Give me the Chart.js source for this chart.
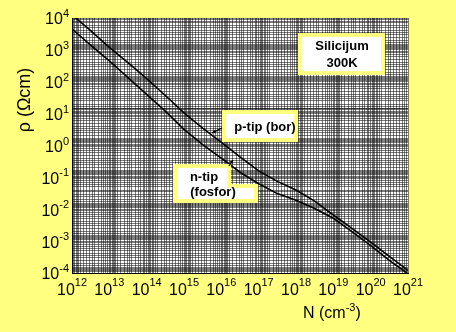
<!DOCTYPE html>
<html>
<head>
<meta charset="utf-8">
<script src="https://cdn.jsdelivr.net/npm/chart.js@4.4.1/dist/chart.umd.min.js"></script>
<style>
  html, body { margin: 0; padding: 0; background: #ffff80; }
  #wrap { width: 456px; height: 332px; position: relative; }
</style>
</head>
<body>
<div id="wrap"><canvas id="rhoChart"></canvas></div>
<script>
// doping concentration N (cm^-3), half-decade steps
const dopingN = [1e12, 3.16e12, 1e13, 3.16e13, 1e14, 3.16e14, 1e15, 3.16e15, 1e16, 3.16e16,
                 1e17, 3.16e17, 1e18, 3.16e18, 1e19, 3.16e19, 1e20, 3.16e20, 1e21];
// resistivity (Ohm cm)
const rhoP = [12600, 4000, 1200, 400, 126, 37, 10.5, 3.5, 1.26, 0.44,
              0.16, 0.075, 0.04, 0.018, 0.0066, 0.0025, 9.3e-4, 3.3e-4, 1.2e-4];
const rhoN = [4500, 1400, 450, 135, 40, 12, 3.2, 1.07, 0.4, 0.145,
              0.063, 0.031, 0.019, 0.0105, 0.0052, 0.002, 7.2e-4, 2.5e-4, 9.5e-5];
// tick label exponents
const xTickExp = [12, 13, 14, 15, 16, 17, 18, 19, 20, 21];
const yTickExp = [4, 3, 2, 1, 0, -1, -2, -3, -4];
// log paper lines inside one decade
const gridSteps = [1, 1.1, 1.2, 1.3, 1.4, 1.5, 1.7, 2, 2.5, 3, 3.5, 4, 5, 6, 7, 8, 9];

const FONT = "'Liberation Sans', Arial, sans-serif";

function gridTicks(lo, hi) {
  const t = [];
  for (let e = lo; e < hi; e++) {
    gridSteps.forEach(m => t.push({ value: m * Math.pow(10, e) }));
  }
  t.push({ value: Math.pow(10, hi) });
  return t;
}

function box(ctx, rects) {
  ctx.fillStyle = "#ffff80";
  rects.forEach(r => ctx.fillRect(r[0], r[1], r[2], r[3]));
  ctx.fillStyle = "#ffffff";
  rects.forEach(r => ctx.fillRect(r[0] + 4, r[1] + 4, r[2] - 8, r[3] - 8));
}

function arrow(ctx, x1, y1, x2, y2) {
  ctx.strokeStyle = "#000";
  ctx.lineWidth = 1.3;
  ctx.beginPath();
  ctx.moveTo(x1, y1);
  ctx.lineTo(x2, y2);
  ctx.stroke();
  const a = Math.atan2(y2 - y1, x2 - x1);
  ctx.beginPath();
  ctx.moveTo(x2, y2);
  ctx.lineTo(x2 - 4 * Math.cos(a - 0.5), y2 - 4 * Math.sin(a - 0.5));
  ctx.lineTo(x2 - 4 * Math.cos(a + 0.5), y2 - 4 * Math.sin(a + 0.5));
  ctx.closePath();
  ctx.fillStyle = "#000";
  ctx.fill();
}

// white paper behind the grid
const paperPlugin = {
  id: "paper",
  beforeDraw(chart) {
    const a = chart.chartArea;
    chart.ctx.save();
    chart.ctx.fillStyle = "#ffffff";
    chart.ctx.fillRect(a.left, a.top, a.right - a.left, a.bottom - a.top);
    chart.ctx.restore();
  }
};

// annotation boxes over the curves
const notePlugin = {
  id: "notes",
  afterDatasetsDraw(chart) {
    const ctx = chart.ctx;
    ctx.save();
    box(ctx, [[298, 33, 87, 42]]);
    box(ctx, [[222, 110, 76, 32]]);
    box(ctx, [[173, 164, 58, 30], [173, 184, 85, 19]]);

    ctx.fillStyle = "#000";
    ctx.textAlign = "center";
    ctx.textBaseline = "middle";
    ctx.font = "bold 13px " + FONT;
    ctx.fillText("Silicijum", 342, 46);
    ctx.fillText("300K", 342, 63);
    ctx.fillText("p-tip (bor)", 265, 127);
    ctx.fillText("n-tip", 204, 177);
    ctx.fillText("(fosfor)", 213, 192);

    arrow(ctx, 222, 128, 212, 133);
    arrow(ctx, 229, 166, 233, 160);
    ctx.restore();
  }
};

// tick labels with superscripts and axis titles
const labelPlugin = {
  id: "labels",
  afterDraw(chart) {
    const ctx = chart.ctx;
    const xs = chart.scales.x, ys = chart.scales.y;
    ctx.save();
    ctx.fillStyle = "#000";
    ctx.textBaseline = "middle";
    ctx.textAlign = "left";

    xTickExp.forEach(e => {
      const px = xs.getPixelForValue(Math.pow(10, e));
      ctx.font = "16px " + FONT;
      const w1 = ctx.measureText("10").width;
      ctx.font = "11px " + FONT;
      const w2 = ctx.measureText(String(e)).width;
      const x0 = px - (w1 + w2) / 2;
      ctx.font = "16px " + FONT;
      ctx.fillText("10", x0, 291);
      ctx.font = "11px " + FONT;
      ctx.fillText(String(e), x0 + w1, 283);
    });

    yTickExp.forEach(e => {
      const py = ys.getPixelForValue(Math.pow(10, e));
      ctx.font = "11px " + FONT;
      const w2 = ctx.measureText(String(e)).width;
      ctx.font = "16px " + FONT;
      const w1 = ctx.measureText("10").width;
      const x0 = 69 - w2 - w1;
      ctx.fillText("10", x0, py + 2);
      ctx.font = "11px " + FONT;
      ctx.fillText(String(e), x0 + w1, py - 4);
    });

    // x title
    ctx.font = "16px " + FONT;
    let x = 303;
    ctx.fillText("N (cm", x, 314);
    x += ctx.measureText("N (cm").width;
    ctx.font = "11px " + FONT;
    ctx.fillText("-3", x, 308);
    x += ctx.measureText("-3").width;
    ctx.font = "16px " + FONT;
    ctx.fillText(")", x, 314);

    // y title
    ctx.translate(25, 100);
    ctx.rotate(-Math.PI / 2);
    ctx.textAlign = "center";
    ctx.font = "18px " + FONT;
    ctx.fillText("\u03c1 (\u03a9cm)", 0, 0);
    ctx.restore();
  }
};

const ctx = document.getElementById("rhoChart").getContext("2d");

new Chart(ctx, {
  type: "line",
  data: {
    datasets: [
      {
        label: "p-tip (bor)",
        data: dopingN.map((n, i) => ({ x: n, y: rhoP[i] })),
        borderColor: "#000",
        borderWidth: 1.6,
        pointRadius: 0,
        fill: false
      },
      {
        label: "n-tip (fosfor)",
        data: dopingN.map((n, i) => ({ x: n, y: rhoN[i] })),
        borderColor: "#000",
        borderWidth: 1.6,
        pointRadius: 0,
        fill: false
      }
    ]
  },
  options: {
    responsive: true,
    maintainAspectRatio: false,
    animation: false,
    layout: { padding: { left: 72, top: 18, right: 48, bottom: 59 } },
    plugins: {
      legend: { display: false },
      tooltip: { enabled: false }
    },
    scales: {
      x: {
        type: "logarithmic",
        min: 1e12,
        max: 1e21,
        afterBuildTicks: axis => { axis.ticks = gridTicks(12, 21); },
        ticks: { display: false },
        grid: { color: "rgba(0,0,0,0.5)", lineWidth: 1, drawTicks: false },
        border: { display: true, color: "#000", width: 1 }
      },
      y: {
        type: "logarithmic",
        min: 1e-4,
        max: 1e4,
        afterBuildTicks: axis => { axis.ticks = gridTicks(-4, 4); },
        ticks: { display: false },
        grid: { color: "rgba(0,0,0,0.5)", lineWidth: 1, drawTicks: false },
        border: { display: true, color: "#000", width: 1 }
      }
    }
  },
  plugins: [paperPlugin, notePlugin, labelPlugin]
});
</script>
</body>
</html>
